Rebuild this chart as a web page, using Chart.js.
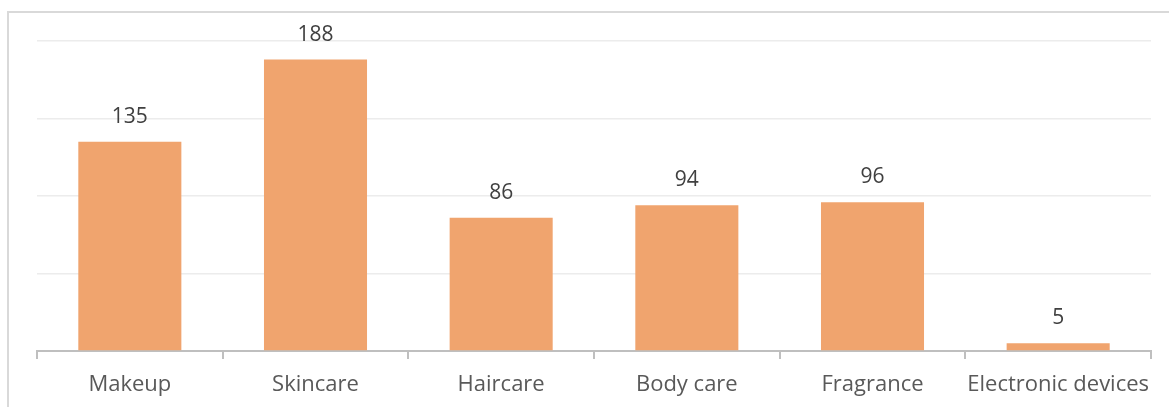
<!DOCTYPE html>
<html>
<head>
<meta charset="utf-8">
<script src="https://cdn.jsdelivr.net/npm/chart.js@4"></script>
<style>
  html, body { margin: 0; padding: 0; background: #fff; }
  #wrap { position: relative; width: 1169px; height: 407px; }
  #frame { position: absolute; left: 7px; top: 11px; right: -10px; bottom: -10px;
    border-left: 2px solid #d9d9d9; border-top: 2px solid #d9d9d9; pointer-events: none; }
</style>
</head>
<body>
<div id="wrap">
  <canvas id="salesChart" width="1169" height="407"></canvas>
  <div id="frame"></div>
</div>
<script>
// data
const categories = ['Makeup', 'Skincare', 'Haircare', 'Body care', 'Fragrance', 'Electronic devices'];
const counts = [135, 188, 86, 94, 96, 5];
const yTicks = [0, 50, 100, 150, 200];

// draws the number over each bar
const valueLabels = {
  id: 'valueLabels',
  afterDatasetsDraw(chart) {
    const ctx = chart.ctx;
    const meta = chart.getDatasetMeta(0);
    ctx.save();
    ctx.font = '21px "Open Sans"';
    ctx.fillStyle = '#404040';
    ctx.textAlign = 'center';
    ctx.textBaseline = 'middle';
    meta.data.forEach((bar, i) => {
      ctx.fillText(String(counts[i]), bar.x, bar.y - 25);
    });
    ctx.restore();
  }
};

const ctx = document.getElementById('salesChart').getContext('2d');
new Chart(ctx, {
  type: 'bar',
  data: {
    labels: categories,
    datasets: [{
      data: counts,
      backgroundColor: '#f0a46e',
      borderWidth: 0,
      categoryPercentage: 1,
      barPercentage: 0.555
    }]
  },
  options: {
    responsive: false,
    animation: false,
    layout: { padding: { left: 37, right: 18, top: 41, bottom: 0 } },
    plugins: { legend: { display: false }, tooltip: { enabled: false } },
    scales: {
      x: {
        grid: { drawOnChartArea: false, drawTicks: true, tickLength: 8, color: '#bfbfbf', lineWidth: 2 },
        border: { color: '#bfbfbf', width: 2 },
        ticks: { color: '#595959', font: { family: 'Open Sans', size: 22 }, padding: 13,
          maxRotation: 0, minRotation: 0, autoSkip: false },
        afterFit(scale) { scale.height = 56; }
      },
      y: {
        min: yTicks[0],
        max: yTicks[yTicks.length - 1],
        afterBuildTicks(scale) { scale.ticks = yTicks.map(v => ({ value: v })); },
        ticks: { display: false },
        grid: { drawTicks: false, color: '#ececec', lineWidth: 1.5 },
        border: { display: false },
        afterFit(scale) { scale.width = 0; }
      }
    }
  },
  plugins: [valueLabels]
});
</script>
</body>
</html>
